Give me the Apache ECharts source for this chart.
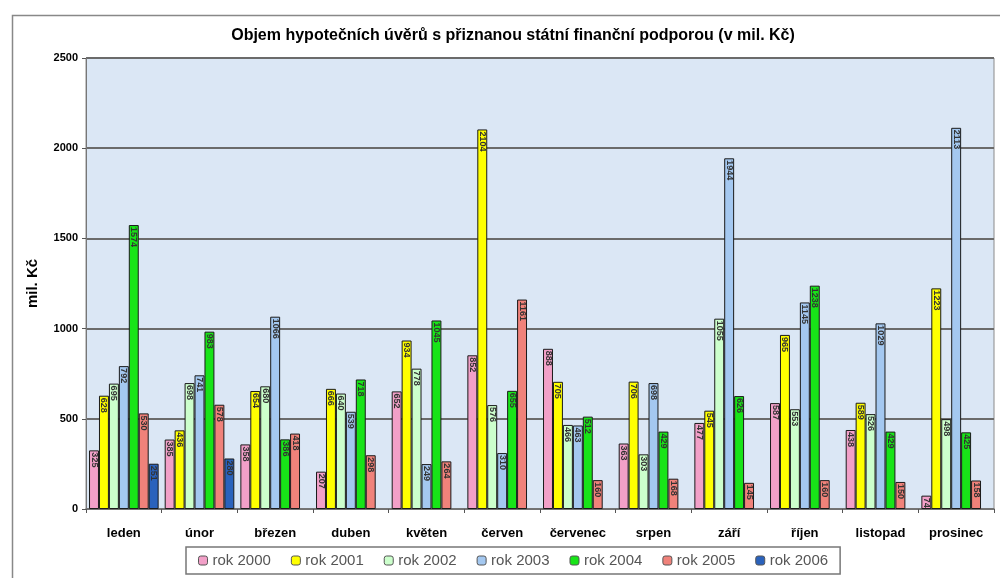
<!DOCTYPE html>
<html><head><meta charset="utf-8">
<script src="https://cdn.jsdelivr.net/npm/echarts@6/dist/echarts.min.js"></script>
<style>html,body{margin:0;padding:0;background:#fff}#c{width:1000px;height:578px}</style>
</head><body><div id="c"></div>
<script>
var categories = ['leden','únor','březen','duben','květen','červen','červenec','srpen','září','říjen','listopad','prosinec'];
var seriesNames = ['rok 2000','rok 2001','rok 2002','rok 2003','rok 2004','rok 2005','rok 2006'];
var rok2000 = [325, 385, 358, 207, 652, 852, 888, 363, 477, 587, 438, 74];
var rok2001 = [628, 436, 654, 666, 934, 2104, 705, 706, 545, 965, 589, 1223];
var rok2002 = [695, 698, 680, 640, 778, 576, 466, 303, 1055, 553, 526, 498];
var rok2003 = [792, 741, 1066, 539, 249, 310, 463, 698, 1944, 1145, 1029, 2113];
var rok2004 = [1574, 983, 386, 718, 1045, 655, 512, 429, 626, 1238, 429, 425];
var rok2005 = [530, 578, 418, 298, 264, 1161, 160, 168, 145, 160, 150, 158];
var rok2006 = [251, 280, null, null, null, null, null, null, null, null, null, null];
var yTicks = [0, 500, 1000, 1500, 2000, 2500];
var colors = ['#f2a0c8','#ffff00','#ccffcc','#a4c8f0','#18e418','#f0827a','#2a62bc'];
var allData = [rok2000, rok2001, rok2002, rok2003, rok2004, rok2005, rok2006];

var chart = echarts.init(document.getElementById('c'));
var series = allData.map(function(d, i){
  return {
    name: seriesNames[i], type: 'bar', data: d,
    barGap: '0%', barCategoryGap: '8%',
    itemStyle: { color: colors[i], borderColor: '#1a1a1a', borderWidth: 1 },
    label: { show: true, position: 'insideTop', rotate: -90, align: 'left', verticalAlign: 'middle',
      distance: 2, fontSize: 9, fontFamily: 'Liberation Sans', fontWeight: 'bold', color: '#333' }
  };
});
chart.setOption({
  animation: false,
  color: colors,
  title: { text: 'Objem hypotečních úvěrů s přiznanou státní finanční podporou (v mil. Kč)',
    left: 508, textAlign: 'center', top: 23,
    textStyle: { fontFamily: 'Liberation Sans', fontSize: 16, fontWeight: 'bold', color: '#000' } },
  graphic: [{ type: 'rect', left: 10, top: 13, shape: { width: 1000, height: 600 }, z: -10,
    style: { fill: 'none', stroke: '#888', lineWidth: 1.5 } }],
  legend: { left: 186, top: 547, itemWidth: 9, itemHeight: 9, itemGap: 20,
    padding: [6, 12], borderColor: '#777', borderWidth: 1.5,
    textStyle: { fontFamily: 'Liberation Sans', fontSize: 15, color: '#555' },
    itemStyle: { borderColor: '#555', borderWidth: 1 } },
  grid: { left: 86, right: 6, top: 58, bottom: 69, show: true, backgroundColor: '#dbe7f5', borderColor: '#8a8a8a', borderWidth: 1 },
  xAxis: { type: 'category', data: categories,
    axisLine: { lineStyle: { color: '#777', width: 1.5 } },
    axisTick: { show: true, length: 4, lineStyle: { color: '#555' } },
    axisLabel: { margin: 18, fontFamily: 'Liberation Sans', fontSize: 13, fontWeight: 'bold', color: '#000' } },
  yAxis: { type: 'value', min: yTicks[0], max: yTicks[yTicks.length-1], interval: 500,
    name: 'mil. Kč', nameLocation: 'middle', nameGap: 46,
    nameTextStyle: { fontFamily: 'Liberation Sans', fontSize: 15, fontWeight: 'bold', color: '#000' },
    axisLine: { show: true, lineStyle: { color: '#777' } },
    axisTick: { show: true, length: 4, lineStyle: { color: '#555' } },
    splitLine: { lineStyle: { color: '#6b6b6b', width: 2 } },
    axisLabel: { margin: 8, fontFamily: 'Liberation Sans', fontSize: 11, fontWeight: 'bold', color: '#000',
      formatter: function(v){ return String(v); } } },
  series: series
});
</script></body></html>
